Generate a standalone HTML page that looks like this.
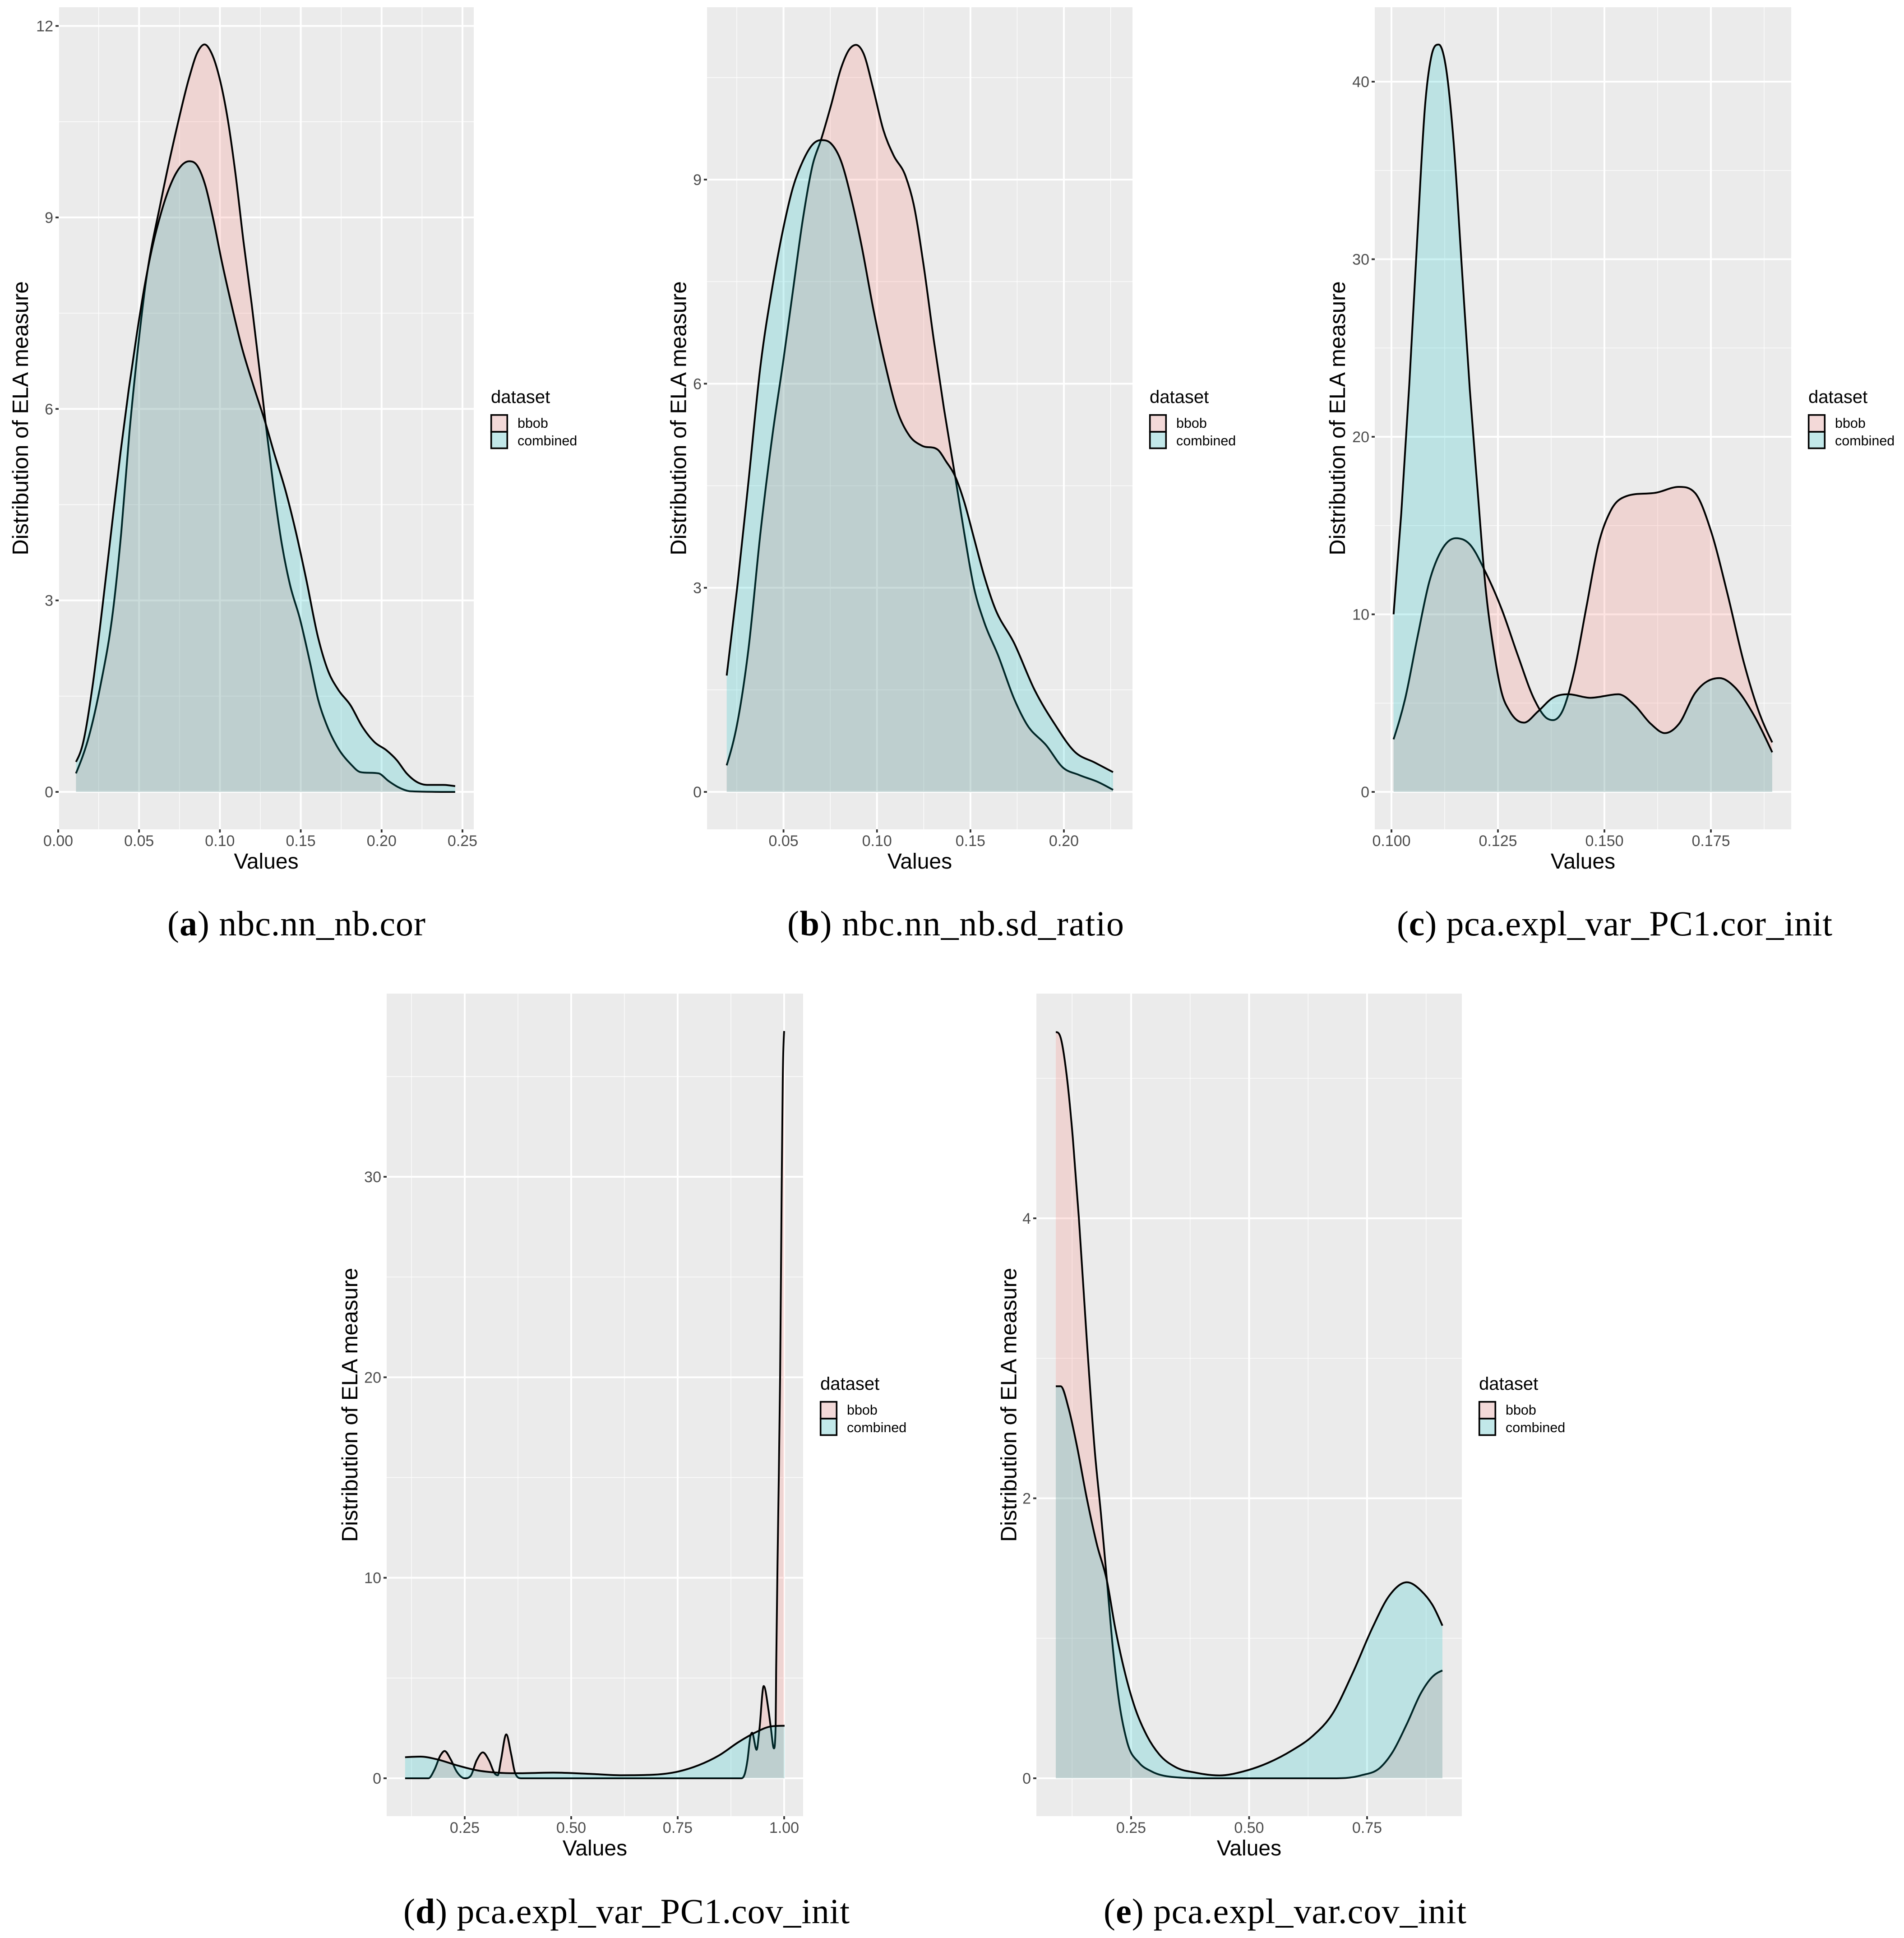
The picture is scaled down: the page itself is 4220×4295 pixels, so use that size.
<!DOCTYPE html>
<html lang="en">
<head>
<meta charset="utf-8">
<title>Distribution of ELA measures</title>
<style>
html,body{margin:0;padding:0;background:#fff;}
svg{display:block;}
text{font-family:"Liberation Sans",sans-serif;}
.cap{font-family:"Liberation Serif",serif;font-size:78px;fill:#000;}
</style>
</head>
<body>
<svg id="figure" xmlns="http://www.w3.org/2000/svg" width="4220" height="4295" viewBox="0 0 4220 4295">
  <rect x="0" y="0" width="4220" height="4295" fill="#ffffff"/>
  <g id="panel-a"></g>
  <g id="panel-b"></g>
  <g id="panel-c"></g>
  <g id="panel-d"></g>
  <g id="panel-e"></g>
  <text class="cap" x="371" y="2073" textLength="572" lengthAdjust="spacing">(<tspan font-weight="bold">a</tspan>) nbc.nn_nb.cor</text>
  <text class="cap" x="1745" y="2073" textLength="746" lengthAdjust="spacing">(<tspan font-weight="bold">b</tspan>) nbc.nn_nb.sd_ratio</text>
  <text class="cap" x="3096" y="2073" textLength="965" lengthAdjust="spacing">(<tspan font-weight="bold">c</tspan>) pca.expl_var_PC1.cor_init</text>
  <text class="cap" x="894" y="4262" textLength="989" lengthAdjust="spacing">(<tspan font-weight="bold">d</tspan>) pca.expl_var_PC1.cov_init</text>
  <text class="cap" x="2446" y="4262" textLength="804" lengthAdjust="spacing">(<tspan font-weight="bold">e</tspan>) pca.expl_var.cov_init</text>
</svg>
<script>
// ---------- chart data ----------
const aXTicks = [0, 0.05, 0.10, 0.15, 0.20, 0.25];
const aXLabels = ['0.00', '0.05', '0.10', '0.15', '0.20', '0.25'];
const aYTicks = [0, 3, 6, 9, 12];
const aYLabels = ['0', '3', '6', '9', '12'];
const aBbobX = [0.011,0.019,0.026,0.034,0.039,0.044,0.049,0.054,0.0635,0.0735,0.081,0.086,0.0905,0.0947,0.0997,0.1047,0.1096,0.1146,0.1196,0.1246,0.1283,0.1333,0.1383,0.1433,0.1495,0.1557,0.1607,0.1657,0.1732,0.1807,0.1869,0.1981,0.2043,0.2106,0.218,0.2455];
const aBbobY = [0.29,0.87,1.65,2.86,4.07,5.62,6.88,7.95,9.25,10.42,11.19,11.58,11.71,11.58,11.19,10.56,9.69,8.62,7.65,6.59,5.77,4.75,3.88,3.25,2.71,2.03,1.45,1.07,0.68,0.44,0.31,0.29,0.17,0.07,0.01,0];
const aCombinedX = [0.011,0.015,0.0212,0.0274,0.0336,0.0386,0.0436,0.0486,0.0536,0.0586,0.0635,0.0685,0.0735,0.081,0.086,0.091,0.096,0.101,0.107,0.1134,0.1209,0.1283,0.1333,0.1408,0.147,0.1533,0.1607,0.167,0.1732,0.1807,0.1881,0.1956,0.2031,0.2093,0.2155,0.223,0.228,0.238,0.2455];
const aCombinedY = [0.47,0.73,1.65,2.91,4.26,5.33,6.30,7.17,7.95,8.58,9.06,9.45,9.72,9.88,9.81,9.50,8.96,8.33,7.65,6.98,6.35,5.77,5.33,4.70,4.07,3.34,2.42,1.89,1.60,1.36,1.02,0.78,0.65,0.50,0.29,0.14,0.11,0.11,0.09];

const bXTicks = [0.05, 0.10, 0.15, 0.20];
const bXLabels = ['0.05', '0.10', '0.15', '0.20'];
const bYTicks = [0, 3, 6, 9];
const bYLabels = ['0', '3', '6', '9'];
const bBbobX = [0.0196,0.0252,0.0312,0.0377,0.0442,0.05,0.055,0.0603,0.0657,0.07,0.0754,0.0808,0.0851,0.0888,0.0927,0.0981,0.1034,0.1088,0.1153,0.1196,0.125,0.1304,0.1358,0.1418,0.1466,0.1519,0.1573,0.1649,0.1735,0.18,0.1907,0.1994,0.208,0.2187,0.2263];
const bBbobY = [0.39,1.0,2.09,3.82,5.27,6.36,7.36,8.41,9.23,9.58,10.09,10.64,10.91,10.98,10.86,10.32,9.73,9.36,9.05,8.64,7.73,6.64,5.64,4.64,3.82,3.0,2.5,2.0,1.36,1.0,0.68,0.36,0.25,0.14,0.03];
const bCombinedX = [0.0196,0.0252,0.0312,0.0377,0.0442,0.05,0.055,0.0603,0.0657,0.07,0.0754,0.0808,0.0862,0.0916,0.0981,0.1045,0.111,0.1175,0.1239,0.1325,0.1369,0.1418,0.1466,0.1519,0.1573,0.1627,0.1735,0.1843,0.195,0.2058,0.2166,0.2263];
const bCombinedY = [1.71,3.0,4.55,6.27,7.45,8.3,8.88,9.27,9.52,9.58,9.53,9.27,8.73,8.05,7.09,6.27,5.59,5.23,5.09,5.03,4.86,4.64,4.27,3.73,3.18,2.73,2.18,1.5,1.0,0.59,0.43,0.29];

const cXTicks = [0.100, 0.125, 0.150, 0.175];
const cXLabels = ['0.100', '0.125', '0.150', '0.175'];
const cYTicks = [0, 10, 20, 30, 40];
const cYLabels = ['0', '10', '20', '30', '40'];
const cBbobX = [0.1005,0.1032,0.1061,0.1089,0.1117,0.1151,0.1184,0.1221,0.1259,0.1297,0.1335,0.1363,0.1379,0.1401,0.1429,0.1458,0.1486,0.1515,0.1552,0.1623,0.1675,0.1713,0.1751,0.1789,0.1827,0.1865,0.1894];
const cBbobY = [2.96,5.23,8.71,11.85,13.59,14.29,13.94,12.37,10.28,7.67,5.23,4.18,4.04,4.53,6.79,10.45,13.94,15.85,16.66,16.86,17.18,16.83,14.63,11.15,7.32,4.36,2.79];
const cCombinedX = [0.1005,0.1023,0.1042,0.1061,0.1079,0.1094,0.1111,0.1127,0.1146,0.1165,0.1184,0.1202,0.1221,0.124,0.1259,0.1278,0.1311,0.1344,0.1379,0.1415,0.1467,0.1533,0.1571,0.1609,0.1642,0.1675,0.1713,0.177,0.1808,0.1846,0.1894];
const cCombinedY = [10.0,15.68,23.0,31.36,38.68,41.46,42.09,40.94,36.59,29.62,22.65,17.07,11.5,8.0,5.57,4.53,3.9,4.53,5.30,5.5,5.3,5.5,4.88,3.83,3.31,3.83,5.57,6.41,5.85,4.53,2.23];

const dXTicks = [0.25, 0.50, 0.75, 1.00];
const dXLabels = ['0.25', '0.50', '0.75', '1.00'];
const dYTicks = [0, 10, 20, 30];
const dYLabels = ['0', '10', '20', '30'];
const dBbobX = [0.11,0.165,0.179,0.193,0.2027,0.2169,0.231,0.25,0.264,0.278,0.2926,0.307,0.321,0.3277,0.335,0.3475,0.359,0.368,0.383,0.5,0.7,0.8997,0.9087,0.914,0.9208,0.9247,0.9353,0.9417,0.952,0.9632,0.9685,0.9759,0.98,0.9812,0.986,0.9905,0.994,0.9968,1.0];
const dBbobY = [0,0,0.43,1.14,1.36,0.95,0.34,0,0.12,0.89,1.29,0.89,0.22,0.15,0.89,2.19,1.2,0.28,0,0,0,0,0.31,0.92,2.1,2.27,1.42,2.4,4.6,3.4,2.56,1.49,2.6,5.4,13.0,20.0,29.0,35.0,37.27];
const dCombinedX = [0.11,0.146,0.184,0.231,0.278,0.326,0.373,0.458,0.544,0.619,0.695,0.752,0.799,0.847,0.894,0.932,0.97,1.001];
const dCombinedY = [1.05,1.08,0.95,0.65,0.40,0.28,0.25,0.28,0.22,0.15,0.18,0.34,0.65,1.14,1.82,2.28,2.59,2.62];

const eXTicks = [0.25, 0.50, 0.75];
const eXLabels = ['0.25', '0.50', '0.75'];
const eYTicks = [0, 2, 4];
const eYLabels = ['0', '2', '4'];
const eBbobX = [0.0904,0.1007,0.1135,0.1263,0.1391,0.1561,0.1732,0.186,0.1988,0.2116,0.2244,0.2415,0.2671,0.2927,0.3353,0.4207,0.6766,0.7364,0.779,0.8046,0.8345,0.8643,0.8899,0.9096];
const eBbobY = [5.33,5.29,5.02,4.58,4.01,3.13,2.33,1.89,1.41,0.92,0.55,0.26,0.11,0.05,0.01,0,0,0.02,0.08,0.19,0.39,0.61,0.73,0.77];
const eCombinedX = [0.0904,0.1007,0.1177,0.1348,0.1561,0.1775,0.1988,0.2159,0.2372,0.2585,0.2841,0.3097,0.3439,0.3865,0.4377,0.4889,0.5401,0.5913,0.634,0.6766,0.7193,0.762,0.7961,0.8345,0.8643,0.8899,0.9096];
const eCombinedY = [2.80,2.80,2.64,2.38,2.0,1.67,1.41,1.08,0.75,0.5,0.30,0.17,0.08,0.04,0.02,0.05,0.11,0.20,0.30,0.46,0.75,1.08,1.30,1.40,1.34,1.23,1.09];

// ---------- layout (pixel calibration of each panel) ----------
const layouts = {
  a: {left:130, right:1050, top:16, bottom:1838, xCal:[0,129,0.25,1025], yCal:[0,1755,12,57.5], yTitleX:62, legendDy:0},
  b: {left:1567, right:2510, top:16, bottom:1838, xCal:[0.05,1736.6,0.20,2358], yCal:[0,1755,9,398], yTitleX:1520.5, legendDy:0},
  c: {left:3047, right:3970, top:16, bottom:1838, xCal:[0.10,3084,0.175,3792], yCal:[0,1755,40,181], yTitleX:2981, legendDy:0},
  d: {left:857, right:1780, top:2202, bottom:4025, xCal:[0.25,1030,1.0,1738], yCal:[0,3941,30,2608], yTitleX:792, legendDy:2187},
  e: {left:2297, right:3240, top:2202, bottom:4025, xCal:[0.25,2507,0.75,3030], yCal:[0,3941,4,2700], yTitleX:2252.7, legendDy:2187}
};

// ---------- helpers ----------
const NS = 'http://www.w3.org/2000/svg';
function make(tag, attrs, parent, txt) {
  const n = document.createElementNS(NS, tag);
  for (const k in attrs) n.setAttribute(k, attrs[k]);
  if (txt !== undefined) n.textContent = txt;
  parent.appendChild(n);
  return n;
}
function linear(cal) {
  const k = (cal[3] - cal[1]) / (cal[2] - cal[0]);
  return v => cal[1] + (v - cal[0]) * k;
}
function minorBreaks(ticks, scale, lo, hi) {
  const step = ticks[1] - ticks[0];
  const list = [];
  list.push(ticks[0] - step / 2);
  for (let i = 0; i < ticks.length - 1; i++) list.push((ticks[i] + ticks[i + 1]) / 2);
  list.push(ticks[ticks.length - 1] + step / 2);
  return list.map(scale).filter(p => p > lo && p < hi);
}
// Shape-preserving cubic interpolation through screen points
function monotonePath(px, py) {
  const n = px.length, m = [], t = new Array(n);
  for (let i = 0; i < n - 1; i++) m.push((py[i + 1] - py[i]) / (px[i + 1] - px[i]));
  for (let i = 1; i < n - 1; i++) {
    if (m[i - 1] * m[i] <= 0) { t[i] = 0; continue; }
    const h0 = px[i] - px[i - 1], h1 = px[i + 1] - px[i], p = (m[i - 1] * h1 + m[i] * h0) / (h0 + h1);
    t[i] = Math.sign(m[i]) * Math.min(3 * Math.abs(m[i - 1]), 3 * Math.abs(m[i]), Math.abs(p));
  }
  t[0] = (3 * m[0] - t[1]) / 2;
  t[n - 1] = (3 * m[n - 2] - t[n - 2]) / 2;
  let d = 'M' + px[0].toFixed(2) + ' ' + py[0].toFixed(2);
  for (let i = 0; i < n - 1; i++) {
    const h = (px[i + 1] - px[i]) / 3;
    d += 'C' + (px[i] + h).toFixed(2) + ' ' + (py[i] + h * t[i]).toFixed(2) + ' ' +
         (px[i + 1] - h).toFixed(2) + ' ' + (py[i + 1] - h * t[i + 1]).toFixed(2) + ' ' +
         px[i + 1].toFixed(2) + ' ' + py[i + 1].toFixed(2);
  }
  return d;
}

function drawPanel(id, lay, xTicks, xLabels, yTicks, yLabels, bX, bY, cX, cY) {
  const g = document.getElementById(id);
  const sx = linear(lay.xCal), sy = linear(lay.yCal);
  const w = lay.right - lay.left, h = lay.bottom - lay.top;
  const bg = make('rect', {x:lay.left, y:lay.top, width:w, height:h, fill:'#EBEBEB'}, g);
  
  

  minorBreaks(xTicks, sx, lay.left, lay.right).forEach(p => {
    const l = make('line', {x1:p, x2:p, y1:lay.top, y2:lay.bottom, stroke:'#fff', 'stroke-width':1.3}, g);
    
    
  });
  minorBreaks(yTicks, sy, lay.top, lay.bottom).forEach(p => {
    const l = make('line', {x1:lay.left, x2:lay.right, y1:p, y2:p, stroke:'#fff', 'stroke-width':1.3}, g);
    
    
  });
  xTicks.forEach(v => {
    const p = sx(v);
    const l = make('line', {x1:p, x2:p, y1:lay.top, y2:lay.bottom, stroke:'#fff', 'stroke-width':4}, g);
    
    
  });
  yTicks.forEach(v => {
    const p = sy(v);
    const l = make('line', {x1:lay.left, x2:lay.right, y1:p, y2:p, stroke:'#fff', 'stroke-width':4}, g);
    
    
  });

  // density series: fill then upper outline, bbob first
  const y0 = sy(0);
  const bpx = bX.map(sx), bpy = bY.map(sy), bd = monotonePath(bpx, bpy);
  const bFill = make('path', {d:bd + 'L' + bpx[bpx.length - 1] + ' ' + y0 + 'L' + bpx[0] + ' ' + y0 + 'Z', fill:'#F8766D', 'fill-opacity':0.2}, g);
  
  
  const bLine = make('path', {d:bd, fill:'none', stroke:'#000', 'stroke-width':4, 'stroke-linejoin':'round'}, g);
  
  
  const cpx = cX.map(sx), cpy = cY.map(sy), cd = monotonePath(cpx, cpy);
  const cFill = make('path', {d:cd + 'L' + cpx[cpx.length - 1] + ' ' + y0 + 'L' + cpx[0] + ' ' + y0 + 'Z', fill:'#00BFC4', 'fill-opacity':0.2}, g);
  
  
  const cLine = make('path', {d:cd, fill:'none', stroke:'#000', 'stroke-width':4, 'stroke-linejoin':'round'}, g);
  
  

  // ticks and labels
  xTicks.forEach((v, i) => {
    const p = sx(v);
    const t = make('line', {x1:p, x2:p, y1:lay.bottom, y2:lay.bottom + 7, stroke:'#333', 'stroke-width':3.8}, g);
    
    
    const lb = make('text', {x:p, y:lay.bottom + 37, 'text-anchor':'middle', 'font-size':34, fill:'#4D4D4D'}, g, xLabels[i]);
    
    
  });
  yTicks.forEach((v, i) => {
    const p = sy(v);
    const t = make('line', {x1:lay.left - 7, x2:lay.left, y1:p, y2:p, stroke:'#333', 'stroke-width':3.8}, g);
    
    
    const lb = make('text', {x:lay.left - 12, y:p + 12, 'text-anchor':'end', 'font-size':34, fill:'#4D4D4D'}, g, yLabels[i]);
    
    
  });

  // axis titles
  const xt = make('text', {x:(lay.left + lay.right) / 2, y:lay.bottom + 87, 'text-anchor':'middle', 'font-size':48, fill:'#000'}, g, 'Values');
  
  
  const yc = (lay.top + lay.bottom) / 2;
  const yt = make('text', {x:lay.yTitleX, y:yc, 'text-anchor':'middle', 'font-size':49, fill:'#000', transform:'rotate(-90 ' + lay.yTitleX + ' ' + yc + ')'}, g, 'Distribution of ELA measure');
  
  

  // legend
  const lx = lay.right, dy = lay.legendDy;
  const lg = make('g', {}, g);
  
  
  const lt = make('text', {x:lx + 38, y:893 + dy, 'font-size':40, fill:'#000'}, lg, 'dataset');
  
  
  const k1 = make('rect', {x:lx + 38.7, y:919.7 + dy, width:35.6, height:37.3, fill:'#F3D9D8', stroke:'#000', 'stroke-width':3.6}, lg);
  
  
  const k2 = make('rect', {x:lx + 38.7, y:957 + dy, width:35.6, height:36.5, fill:'#C2E8E9', stroke:'#000', 'stroke-width':3.6}, lg);
  
  
  const t1 = make('text', {x:lx + 97, y:948 + dy, 'font-size':30.5, fill:'#000'}, lg, 'bbob');
  
  
  const t2 = make('text', {x:lx + 97, y:987 + dy, 'font-size':30.5, fill:'#000'}, lg, 'combined');
  
  
}

drawPanel('panel-a', layouts.a, aXTicks, aXLabels, aYTicks, aYLabels, aBbobX, aBbobY, aCombinedX, aCombinedY);
drawPanel('panel-b', layouts.b, bXTicks, bXLabels, bYTicks, bYLabels, bBbobX, bBbobY, bCombinedX, bCombinedY);
drawPanel('panel-c', layouts.c, cXTicks, cXLabels, cYTicks, cYLabels, cBbobX, cBbobY, cCombinedX, cCombinedY);
drawPanel('panel-d', layouts.d, dXTicks, dXLabels, dYTicks, dYLabels, dBbobX, dBbobY, dCombinedX, dCombinedY);
drawPanel('panel-e', layouts.e, eXTicks, eXLabels, eYTicks, eYLabels, eBbobX, eBbobY, eCombinedX, eCombinedY);
</script>
</body>
</html>
